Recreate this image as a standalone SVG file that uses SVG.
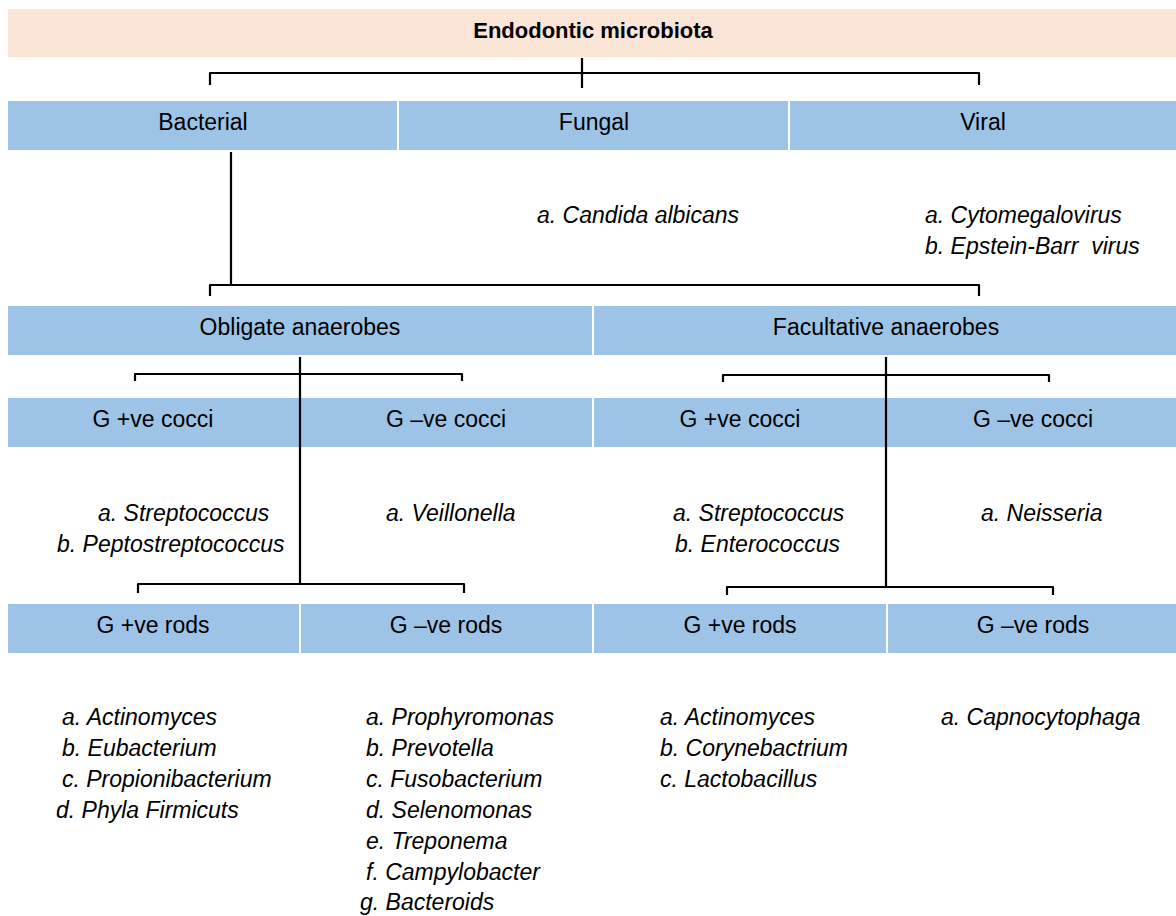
<svg xmlns="http://www.w3.org/2000/svg" width="1176" height="916" viewBox="0 0 1176 916">
<style>
.box{fill:#9DC3E6}
.top{fill:#FBE5D6}
text{font-family:"Liberation Sans",Arial,sans-serif;font-size:23px;fill:#000}
.lbl{text-anchor:middle}
.ttl{font-weight:bold;text-anchor:middle;font-size:22px}
.it{font-style:italic}
.ln{fill:none;stroke:#000;stroke-width:2.2;stroke-linejoin:round}
</style>
<rect width="1176" height="916" fill="#fff"/>
<g id="root"><rect class="top" x="8" y="9" width="1168" height="48"/><text class="ttl" x="593" y="38">Endodontic microbiota</text></g>
<g id="bacterial"><rect class="box" x="8" y="101" width="389" height="49"/><text class="lbl" x="203" y="130">Bacterial</text></g>
<g id="fungal"><rect class="box" x="399" y="101" width="389" height="49"/><text class="lbl" x="594" y="130">Fungal</text><text class="it" x="537" y="223">a. Candida albicans</text></g>
<g id="viral"><rect class="box" x="790" y="101" width="386" height="49"/><text class="lbl" x="983" y="130">Viral</text><text class="it" x="925" y="223">a. Cytomegalovirus</text><text class="it" x="925" y="254" xml:space="preserve">b. Epstein-Barr  virus</text></g>
<g id="obligate"><rect class="box" x="8" y="306" width="584" height="49"/><text class="lbl" x="300" y="335">Obligate anaerobes</text></g>
<g id="facultative"><rect class="box" x="594" y="306" width="582" height="49"/><text class="lbl" x="886" y="335">Facultative anaerobes</text></g>
<g id="ob-gpc"><rect class="box" x="8" y="398" width="292" height="49"/><text class="lbl" x="153" y="427">G +ve cocci</text><text class="it" x="98" y="521">a. Streptococcus</text><text class="it" x="57" y="552">b. Peptostreptococcus</text></g>
<g id="ob-gnc"><rect class="box" x="300" y="398" width="292" height="49"/><text class="lbl" x="446" y="427">G –ve cocci</text><text class="it" x="386" y="521">a. Veillonella</text></g>
<g id="fa-gpc"><rect class="box" x="594" y="398" width="292" height="49"/><text class="lbl" x="740" y="427">G +ve cocci</text><text class="it" x="673" y="521">a. Streptococcus</text><text class="it" x="675" y="552">b. Enterococcus</text></g>
<g id="fa-gnc"><rect class="box" x="886" y="398" width="290" height="49"/><text class="lbl" x="1033" y="427">G –ve cocci</text><text class="it" x="981" y="521">a. Neisseria</text></g>
<g id="ob-gpr"><rect class="box" x="8" y="604" width="291" height="49"/><text class="lbl" x="153" y="633">G +ve rods</text>
<text class="it" x="62" y="725">a. Actinomyces</text><text class="it" x="62" y="756">b. Eubacterium</text><text class="it" x="62" y="787">c. Propionibacterium</text><text class="it" x="56" y="818">d. Phyla Firmicuts</text></g>
<g id="ob-gnr"><rect class="box" x="301" y="604" width="291" height="49"/><text class="lbl" x="446" y="633">G –ve rods</text>
<text class="it" x="366" y="725">a. Prophyromonas</text><text class="it" x="366" y="756">b. Prevotella</text><text class="it" x="366" y="787">c. Fusobacterium</text><text class="it" x="366" y="818">d. Selenomonas</text><text class="it" x="366" y="849">e. Treponema</text><text class="it" x="366" y="880">f. Campylobacter</text><text class="it" x="360" y="910">g. Bacteroids</text></g>
<g id="fa-gpr"><rect class="box" x="594" y="604" width="292" height="49"/><text class="lbl" x="740" y="633">G +ve rods</text>
<text class="it" x="660" y="725">a. Actinomyces</text><text class="it" x="660" y="756">b. Corynebactrium</text><text class="it" x="660" y="787">c. Lactobacillus</text></g>
<g id="fa-gnr"><rect class="box" x="888" y="604" width="288" height="49"/><text class="lbl" x="1033" y="633">G –ve rods</text><text class="it" x="941" y="725">a. Capnocytophaga</text></g>
<g id="connectors">
<path class="ln" d="M582 58V88M210 85V73H979V85"/>
<path class="ln" d="M231 152V285M210 296V285H979V296"/>
<path class="ln" d="M300 357V584M135 381V374H462V381M138 593V584H464V593"/>
<path class="ln" d="M886 357V587M723 382V375H1049V382M727 595V587H1053V595"/>
</g>
</svg>
